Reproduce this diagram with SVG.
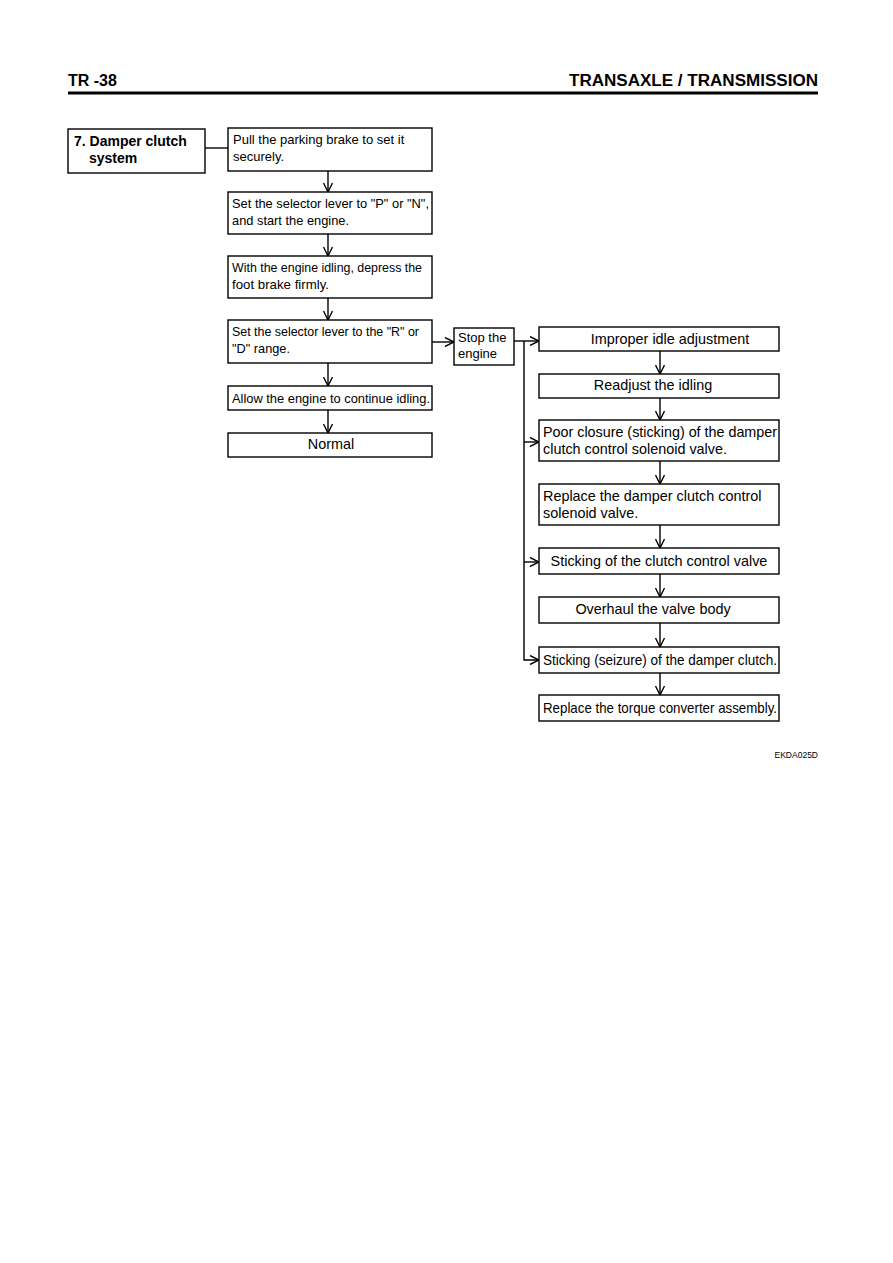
<svg xmlns="http://www.w3.org/2000/svg" width="893" height="1263" viewBox="0 0 893 1263">
<defs>
<marker id="arr" viewBox="0 0 10 10" refX="10" refY="5" markerWidth="10" markerHeight="10" markerUnits="userSpaceOnUse" orient="auto">
<path d="M1,0.5 L10,5 L1,9.5" fill="none" stroke="#000" stroke-width="1.4"/>
</marker>
</defs>
<style>
rect{fill:#fff;stroke:#000;stroke-width:1.4}
text{font-family:"Liberation Sans",Arial,sans-serif;font-size:13px;fill:#000}
.r{font-size:14.4px}
.c{text-anchor:middle}
.b{font-weight:bold;font-size:14px}
.h{font-weight:bold;font-size:16px}
.conn line,.conn polyline{stroke:#000;stroke-width:1.4;fill:none}
</style>
<rect x="0" y="0" width="893" height="1263" style="fill:#fff;stroke:none"/>
<g id="header">
<text class="h" x="68" y="86">TR -38</text>
<text class="h" x="569" y="86" textLength="249" lengthAdjust="spacingAndGlyphs">TRANSAXLE / TRANSMISSION</text>
<line x1="68" y1="93" x2="818" y2="93" stroke="#000" stroke-width="3"/>
</g>
<g id="title"><rect x="68" y="129" width="137" height="44"/>
<text class="b" x="74" y="146">7. Damper clutch</text><text class="b" x="89" y="163">system</text></g>
<g id="n1"><rect x="228" y="128" width="204" height="43"/>
<text x="233" y="144">Pull the parking brake to set it</text><text x="233" y="161">securely.</text></g>
<g id="n2"><rect x="228" y="192" width="204" height="42"/>
<text x="232" y="208" textLength="197" lengthAdjust="spacingAndGlyphs">Set the selector lever to "P" or "N",</text><text x="232" y="225" textLength="117" lengthAdjust="spacingAndGlyphs">and start the engine.</text></g>
<g id="n3"><rect x="228" y="256" width="204" height="42"/>
<text x="232" y="272" textLength="190" lengthAdjust="spacingAndGlyphs">With the engine idling, depress the</text><text x="232" y="289" textLength="97" lengthAdjust="spacingAndGlyphs">foot brake firmly.</text></g>
<g id="n4"><rect x="228" y="320" width="204" height="43"/>
<text x="232" y="336" textLength="187" lengthAdjust="spacingAndGlyphs">Set the selector lever to the "R" or</text><text x="232" y="353" textLength="58" lengthAdjust="spacingAndGlyphs">"D" range.</text></g>
<g id="n5"><rect x="228" y="386" width="204" height="24"/>
<text x="232" y="403" textLength="198" lengthAdjust="spacingAndGlyphs">Allow the engine to continue idling.</text></g>
<g id="n6"><rect x="228" y="433" width="204" height="24"/>
<text class="c r" x="331" y="449">Normal</text></g>
<g id="n7"><rect x="454" y="328" width="60" height="37"/>
<text x="458" y="342">Stop the</text><text x="458" y="358">engine</text></g>
<g id="n8"><rect x="539" y="327" width="240" height="24"/>
<text class="c r" x="670" y="344">Improper idle adjustment</text></g>
<g id="n9"><rect x="539" y="374" width="240" height="24"/>
<text class="c r" x="653" y="390">Readjust the idling</text></g>
<g id="n10"><rect x="539" y="420" width="240" height="41"/>
<text class="r" x="543" y="437" textLength="234" lengthAdjust="spacingAndGlyphs">Poor closure (sticking) of the damper</text><text class="r" x="543" y="454">clutch control solenoid valve.</text></g>
<g id="n11"><rect x="539" y="484" width="240" height="41"/>
<text class="r" x="543" y="501">Replace the damper clutch control</text><text class="r" x="543" y="518">solenoid valve.</text></g>
<g id="n12"><rect x="539" y="548" width="240" height="26"/>
<text class="c r" x="659" y="566">Sticking of the clutch control valve</text></g>
<g id="n13"><rect x="539" y="597" width="240" height="26"/>
<text class="c r" x="653" y="614">Overhaul the valve body</text></g>
<g id="n14"><rect x="539" y="647" width="240" height="26"/>
<text class="r" x="543" y="665" textLength="234" lengthAdjust="spacingAndGlyphs">Sticking (seizure) of the damper clutch.</text></g>
<g id="n15"><rect x="539" y="695" width="240" height="26"/>
<text class="r" x="543" y="713" textLength="234" lengthAdjust="spacingAndGlyphs">Replace the torque converter assembly.</text></g>
<g class="conn" id="connectors">
<line x1="205" y1="148" x2="228" y2="148"/>
<line x1="328" y1="171" x2="328" y2="192" marker-end="url(#arr)"/>
<line x1="328" y1="234" x2="328" y2="256" marker-end="url(#arr)"/>
<line x1="328" y1="298" x2="328" y2="320" marker-end="url(#arr)"/>
<line x1="328" y1="363" x2="328" y2="386" marker-end="url(#arr)"/>
<line x1="328" y1="410" x2="328" y2="433" marker-end="url(#arr)"/>
<line x1="432" y1="342" x2="454" y2="342" marker-end="url(#arr)"/>
<line x1="514" y1="341" x2="539" y2="341" marker-end="url(#arr)"/>
<polyline points="524,341 524,660 539,660" marker-end="url(#arr)"/>
<line x1="524" y1="442" x2="539" y2="442" marker-end="url(#arr)"/>
<line x1="524" y1="562" x2="539" y2="562" marker-end="url(#arr)"/>
<line x1="660" y1="351" x2="660" y2="374" marker-end="url(#arr)"/>
<line x1="660" y1="398" x2="660" y2="420" marker-end="url(#arr)"/>
<line x1="660" y1="461" x2="660" y2="484" marker-end="url(#arr)"/>
<line x1="660" y1="525" x2="660" y2="548" marker-end="url(#arr)"/>
<line x1="660" y1="574" x2="660" y2="597" marker-end="url(#arr)"/>
<line x1="660" y1="623" x2="660" y2="647" marker-end="url(#arr)"/>
<line x1="660" y1="673" x2="660" y2="695" marker-end="url(#arr)"/>
</g>
<text x="818" y="758" text-anchor="end" style="font-size:8.5px">EKDA025D</text>
</svg>
